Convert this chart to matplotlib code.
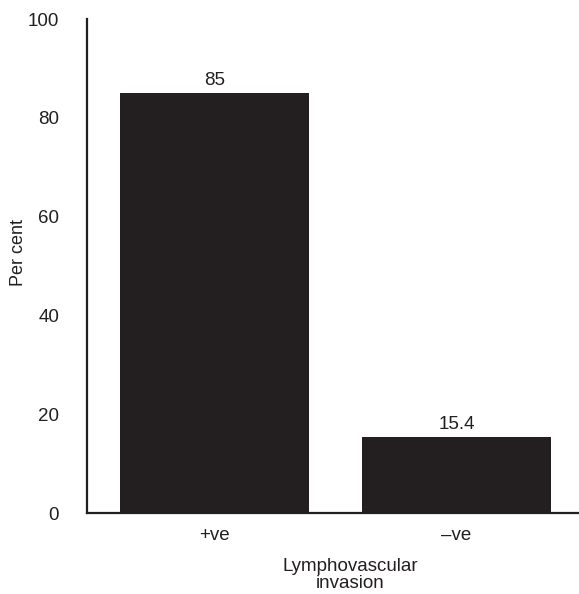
import matplotlib
matplotlib.use("Agg")
import matplotlib.pyplot as plt

categories = ["+ve", "\u2013ve"]
values = [85, 15.4]
value_labels = ["85", "15.4"]
yticks = [0, 20, 40, 60, 80, 100]

plt.rcParams['font.family'] = ['Liberation Sans', 'DejaVu Sans']
dark = "#231f20"

fig = plt.figure(figsize=(5.79, 5.94), dpi=100)
ax = fig.add_axes([87/579, 1 - 513/594, (578-87)/579, (513-19)/594])

x = list(range(len(categories)))
bars = ax.bar(x, values, width=0.78, color=dark, zorder=2)
for b, lab in zip(bars, value_labels):
    ax.annotate(lab, (b.get_x() + b.get_width()/2, b.get_height()),
                xytext=(0, 3), textcoords="offset points",
                ha="center", va="bottom", fontsize=13.5, color=dark)

ax.set_xlim(-0.527, 1.502)
ax.set_ylim(0, 100)
ax.set_yticks(yticks)
ax.set_xticks(x)
ax.set_xticklabels(categories)
ax.tick_params(axis="both", length=0, labelsize=13.5, colors=dark)
ax.tick_params(axis="y", pad=20)
ax.tick_params(axis="x", pad=10)
for s in ["top", "right"]:
    ax.spines[s].set_visible(False)
for s in ["left", "bottom"]:
    ax.spines[s].set_linewidth(1.6)
    ax.spines[s].set_color(dark)

fig.text(18.5/579, 1 - 252/594, "Per cent", rotation=90, ha="center", va="center",
         fontsize=13, color=dark)
fig.text(350/579, 1 - 575/594, "Lymphovascular\ninvasion", ha="center", va="center",
         fontsize=13.5, color=dark, linespacing=1.0)

fig.savefig("out.png", dpi=100)
